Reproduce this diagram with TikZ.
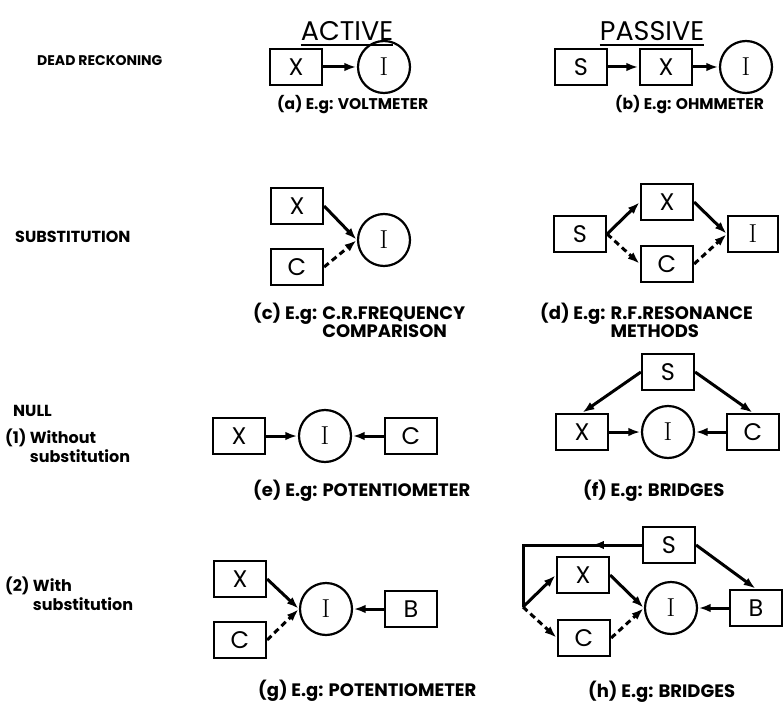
\documentclass[tikz,border=0pt]{standalone}
\usepackage{fontspec}
\newfontfamily\lab{Poppins}
\usetikzlibrary{arrows.meta,decorations.markings}
\begin{document}
\begin{tikzpicture}[x=1pt,y=-1pt,
  box/.style={draw, line width=2.2pt, minimum width=52pt, minimum height=36pt, inner sep=0pt, font=\lab\fontsize{24}{24}\selectfont},
  circ/.style={draw, circle, line width=2.2pt, minimum size=52pt, inner sep=0pt, font=\fontsize{26}{26}\selectfont},
  arr/.style={line width=3pt, -{Latex[length=12pt,width=8.5pt]}, shorten >=0.5pt},
  dsh/.style={arr, dash pattern=on 6pt off 4pt},
  captxt/.style={anchor=base west, inner sep=0pt, font=\lab\bfseries\fontsize{18}{18}\selectfont},
  smallcap/.style={captxt, font=\lab\bfseries\fontsize{15.5}{18}\selectfont},
  rowlab/.style={anchor=base west, inner sep=0pt, font=\lab\bfseries\fontsize{16}{19}\selectfont},
  head/.style={inner sep=0pt, font=\lab\fontsize{27}{27}\selectfont},
  uline/.style={line width=2.6pt}
]
\useasboundingbox (0,0) rectangle (784,706);

% headers
\node[head] (act) at (347,31) {ACTIVE};
\node[head] (pas) at (652,31) {PASSIVE};
\draw[uline] ([yshift=-4pt]act.south west) -- ([yshift=-4pt]act.south east);
\draw[uline] ([yshift=-4pt]pas.south west) -- ([yshift=-4pt]pas.south east);

% row labels
\node[rowlab, font=\lab\bfseries\fontsize{14}{17}\selectfont] (l1) at (37,66) {DEAD RECKONING};
\node[rowlab] (l2) at (15,242) {SUBSTITUTION};
\node[rowlab] (l3) at (13,416) {NULL};
\node[rowlab] (l4) at (5,443) {(1) \begin{tabular}[t]{@{}l@{}}Without\\substitution\end{tabular}};
\node[rowlab] (l6) at (5,591) {(2) \begin{tabular}[t]{@{}l@{}}With\\substitution\end{tabular}};

% (a)
\node[box] (Xa) at (296,67) {X};
\node[circ] (Ia) at (384,67) {I};
\draw[arr] (Xa) -- (Ia);
\node[smallcap] (ca) at (277,110) {(a) E.g: VOLTMETER};

% (b)
\node[box] (Sb) at (581,67) {S};
\node[box] (Xb) at (666,67) {X};
\node[circ] (Ib) at (746,67) {I};
\draw[arr] (Sb) -- (Xb);
\draw[arr] (Xb) -- (Ib);
\node[smallcap] (cb) at (615,110) {(b) E.g: OHMMETER};

% (c)
\node[box] (Xc) at (297,206) {X};
\node[box] (Cc) at (297,267) {C};
\node[circ] (Ic) at (384,240) {I};
\draw[arr] (Xc.east) -- (Ic.west);
\draw[dsh] (Cc.east) -- (Ic.west);
\node[captxt] (cc) at (253,319) {(c) E.g: \begin{tabular}[t]{@{}l@{}}C.R.FREQUENCY\\COMPARISON\end{tabular}};

% (d)
\node[box] (Sd) at (580,234) {S};
\node[box] (Xd) at (667,202) {X};
\node[box] (Cd) at (667,264) {C};
\node[box, minimum width=50pt] (Id) at (753,234) {\rmfamily\fontsize{26}{26}\selectfont I};
\draw[arr] (Sd.east) -- (Xd.west);
\draw[dsh] (Sd.east) -- (Cd.west);
\draw[arr] (Xd.east) -- (Id.west);
\draw[dsh] (Cd.east) -- (Id.west);
\node[captxt] (cd) at (540,319) {(d) E.g: \begin{tabular}[t]{@{}l@{}}R.F.RESONANCE\\METHODS\end{tabular}};

% (e)
\node[box] (Xe) at (239,436) {X};
\node[circ] (Ie) at (325,436) {I};
\node[box] (Ce) at (411,436) {C};
\draw[arr] (Xe) -- (Ie);
\draw[arr] (Ce) -- (Ie);
\node[captxt] (ce) at (253,496) {(e) E.g: POTENTIOMETER};

% (f)
\node[box] (Sf) at (668,372) {S};
\node[box] (Xf) at (582,432) {X};
\node[circ] (If) at (668,432) {I};
\node[box] (Cf) at (753,432) {C};
\draw[arr] (Sf.west) -- (Xf.north);
\draw[arr] (Sf.east) -- (Cf.north);
\draw[arr] (Xf) -- (If);
\draw[arr] (Cf) -- (If);
\node[captxt] (cf) at (583,496) {(f) E.g: BRIDGES};

% (g)
\node[box] (Xg) at (240,579) {X};
\node[box] (Cg) at (240,640) {C};
\node[circ] (Ig) at (326,609) {I};
\node[box] (Bg) at (411,609) {B};
\draw[arr] (Xg.east) -- (Ig.west);
\draw[dsh] (Cg.east) -- (Ig.west);
\draw[arr] (Bg) -- (Ig);
\node[captxt] (cg) at (258,696) {(g) E.g: POTENTIOMETER};

% (h)
\node[box] (Sh) at (669,545) {S};
\node[box] (Xh) at (583,575) {X};
\node[box] (Ch) at (584,638) {C};
\node[circ] (Ih) at (671,608) {I};
\node[box] (Bh) at (756,608) {B};
\coordinate (Q) at (523,545);
\coordinate (P) at (523,607);
\draw[line width=3pt, line join=miter, postaction={decorate},
  decoration={markings, mark=at position 50pt with {\arrow{Latex[length=12pt,width=8.5pt]}}}]
  (Sh.west) -- (Q) -- (P);
\draw[arr] (P) -- (Xh.west);
\draw[dsh] (P) -- (Ch.west);
\draw[arr] (Xh.east) -- (Ih.west);
\draw[dsh] (Ch.east) -- (Ih.west);
\draw[arr] (Sh.east) -- (Bh.north);
\draw[arr] (Bh) -- (Ih);
\node[captxt] (ch) at (588,697) {(h) E.g: BRIDGES};
\end{tikzpicture}
\end{document}
